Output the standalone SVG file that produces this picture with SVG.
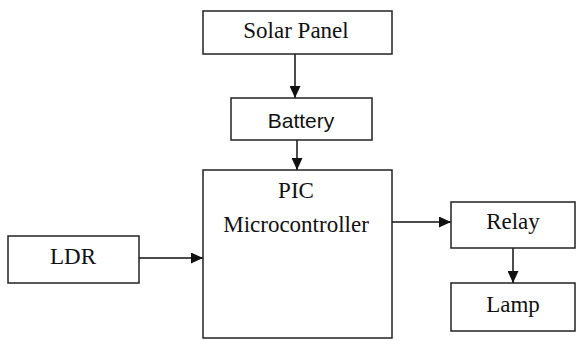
<svg xmlns="http://www.w3.org/2000/svg" width="576" height="341" viewBox="0 0 576 341">
<defs>
<style>
.box{fill:#fff;stroke:#222;stroke-width:1.5}
.t{font-family:'Liberation Serif','DejaVu Serif',serif;font-size:23px;fill:#111;text-anchor:middle}
.s{font-family:'Liberation Sans','DejaVu Sans',sans-serif;font-size:21px;fill:#111;text-anchor:middle}
.c{stroke:#111;stroke-width:1.5;fill:none;marker-end:url(#ah)}
</style>
<marker id="ah" viewBox="0 0 12 11" refX="12" refY="5.5" markerWidth="12" markerHeight="11" markerUnits="userSpaceOnUse" orient="auto">
<path d="M0,0 L12,5.5 L0,11 Z" fill="#111"/>
</marker>
</defs>
<rect width="576" height="341" fill="#fff"/>
<g id="connectors">
<line class="c" x1="295" y1="54" x2="295" y2="98"/>
<line class="c" x1="297" y1="140" x2="297" y2="170"/>
<line class="c" x1="139" y1="258" x2="203" y2="258"/>
<line class="c" x1="392" y1="222" x2="451" y2="222"/>
<line class="c" x1="513" y1="248" x2="513" y2="283"/>
</g>
<g id="solar-panel">
<rect class="box" x="203" y="11" width="189" height="43"/>
<text class="t" x="296" y="38" font-family="Liberation Serif, serif">Solar Panel</text>
</g>
<g id="battery">
<rect class="box" x="231" y="98" width="141" height="42"/>
<text class="s" x="301" y="128">Battery</text>
</g>
<g id="pic">
<rect class="box" x="203" y="170" width="189" height="168"/>
<text class="t" x="296" y="198">PIC</text>
<text class="t" x="296" y="232">Microcontroller</text>
</g>
<g id="ldr">
<rect class="box" x="8" y="236" width="131" height="47"/>
<text class="t" x="73" y="264">LDR</text>
</g>
<g id="relay">
<rect class="box" x="451" y="202" width="124" height="46"/>
<text class="t" x="513" y="229">Relay</text>
</g>
<g id="lamp">
<rect class="box" x="451" y="283" width="124" height="48"/>
<text class="t" x="513" y="312">Lamp</text>
</g>
</svg>
